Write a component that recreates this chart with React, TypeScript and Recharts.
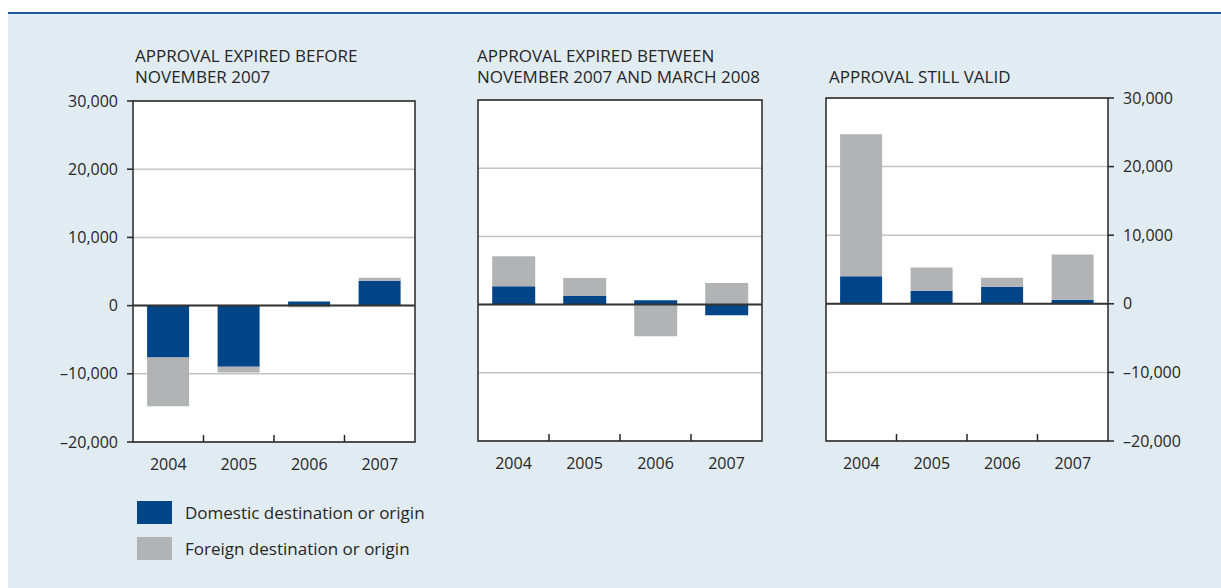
import React from 'react';
import {
  BarChart,
  Bar,
  XAxis,
  YAxis,
  CartesianGrid,
  ReferenceLine,
  ReferenceArea,
} from 'recharts';

const years = ['2004', '2005', '2006', '2007'];

// approval expired before November 2007
const beforeDomestic = [-7600, -8950, 600, 3650];
const beforeForeign = [-7150, -850, -250, 430];

// approval expired between November 2007 and March 2008
const betweenDomestic = [2700, 1250, 650, -1550];
const betweenForeign = [4400, 2650, -4650, 3150];

// approval still valid
const validDomestic = [4000, 1900, 2500, 600];
const validForeign = [20700, 3400, 1300, 6600];

const yTicks = [-20000, -10000, 0, 10000, 20000, 30000];

const DOMESTIC = '#004587';
const FOREIGN = '#b2b3b5';
const INK = '#262626';
const FONT = '"Open Sans", sans-serif';

function fmt(v: number) {
  const s = Math.abs(v).toLocaleString('en-US');
  return v < 0 ? '\u2013' + s : s;
}

function build(dom: number[], frn: number[]) {
  return years.map((year, i) => ({ year, domestic: dom[i], foreign: frn[i] }));
}

// year label plus the small tick mark between categories
function YearTick(props: any) {
  const { x, y, payload, index, band } = props;
  return (
    <g>
      <text x={x} y={y + 28} textAnchor="middle" fill={INK} fontSize={16}>
        {payload.value}
      </text>
      {index < years.length - 1 && (
        <line x1={x + band / 2} x2={x + band / 2} y1={y} y2={y - 7} stroke={INK} strokeWidth={1.5} />
      )}
    </g>
  );
}

interface PanelProps {
  data: { year: string; domestic: number; foreign: number }[];
  left: number;
  top: number;
  right: number;
  bottom: number;
  axis: 'left' | 'right' | 'none';
}

function Panel({ data, left, top, right, bottom, axis }: PanelProps) {
  const pw = right - left;
  const ph = bottom - top;
  const band = pw / years.length;
  return (
    <div style={{ position: 'absolute', left: left - 100, top: top - 20 }}>
      <BarChart
        width={pw + 200}
        height={ph + 60}
        data={data}
        stackOffset="sign"
        barCategoryGap="20%"
        margin={{
          top: 20,
          bottom: 0,
          left: axis === 'left' ? 0 : 100,
          right: axis === 'right' ? 0 : 100,
        }}
      >
        <CartesianGrid vertical={false} stroke="#c4c4c4" strokeWidth={1.5} fill="#ffffff" />
        <XAxis
          dataKey="year"
          height={40}
          tickSize={0}
          tickMargin={0}
          axisLine={false}
          tickLine={false}
          interval={0}
          tick={(p: any) => <YearTick {...p} band={band} />}
        />
        <YAxis
          orientation={axis === 'right' ? 'right' : 'left'}
          hide={axis === 'none'}
          width={100}
          domain={[-20000, 30000]}
          ticks={yTicks}
          interval={0}
          allowDataOverflow
          tickSize={6}
          tickMargin={9}
          tickFormatter={fmt}
          axisLine={false}
          tickLine={{ stroke: INK, strokeWidth: 1.5 }}
          tick={{ fill: INK, fontSize: 16 }}
        />
        <Bar dataKey="domestic" stackId="s" fill={DOMESTIC} isAnimationActive={false} />
        <Bar dataKey="foreign" stackId="s" fill={FOREIGN} isAnimationActive={false} />
        <ReferenceLine y={0} stroke="#333" strokeWidth={2} />
        <ReferenceArea y1={-20000} y2={30000} fill="none" fillOpacity={0} stroke={INK} strokeWidth={1.5} />
      </BarChart>
    </div>
  );
}

function Title({ lines, left, top }: { lines: string[]; left: number; top: number }) {
  return (
    <>
      {lines.map((line, i) => (
        <div
          key={line}
          style={{
            position: 'absolute',
            left,
            top: top + i * 21,
            fontSize: 17,
            lineHeight: '18px',
            color: INK,
            whiteSpace: 'nowrap',
          }}
        >
          {line}
        </div>
      ))}
    </>
  );
}

export default function App() {
  return (
    <div
      style={{
        position: 'fixed',
        left: 0,
        top: 0,
        width: 1221,
        height: 588,
        background: '#fff',
        fontFamily: FONT,
        overflow: 'hidden',
      }}
    >
      <div style={{ position: 'absolute', left: 8, top: 12, width: 1213, height: 2, background: '#1f5b98' }} />
      <div style={{ position: 'absolute', left: 8, top: 14, width: 1213, height: 574, background: '#e1ebf2' }} />

      <Title lines={['APPROVAL EXPIRED BEFORE', 'NOVEMBER 2007']} left={135} top={47} />
      <Title lines={['APPROVAL EXPIRED BETWEEN', 'NOVEMBER 2007 AND MARCH 2008']} left={477} top={47} />
      <Title lines={['APPROVAL STILL VALID']} left={829} top={68} />

      <Panel data={build(beforeDomestic, beforeForeign)} left={133} top={101} right={415} bottom={442} axis="left" />
      <Panel data={build(betweenDomestic, betweenForeign)} left={478} top={100} right={762} bottom={441} axis="none" />
      <Panel data={build(validDomestic, validForeign)} left={826} top={98} right={1108} bottom={441} axis="right" />

      {[
        { label: 'Domestic destination or origin', color: DOMESTIC, top: 501 },
        { label: 'Foreign destination or origin', color: FOREIGN, top: 537 },
      ].map((item) => (
        <div key={item.label} style={{ position: 'absolute', left: 137, top: item.top, height: 24 }}>
          <div style={{ position: 'absolute', left: 0, top: 0, width: 35, height: 23, background: item.color }} />
          <div
            style={{
              position: 'absolute',
              left: 48,
              top: 1,
              fontSize: 17,
              lineHeight: '22px',
              color: INK,
              whiteSpace: 'nowrap',
            }}
          >
            {item.label}
          </div>
        </div>
      ))}
    </div>
  );
}
